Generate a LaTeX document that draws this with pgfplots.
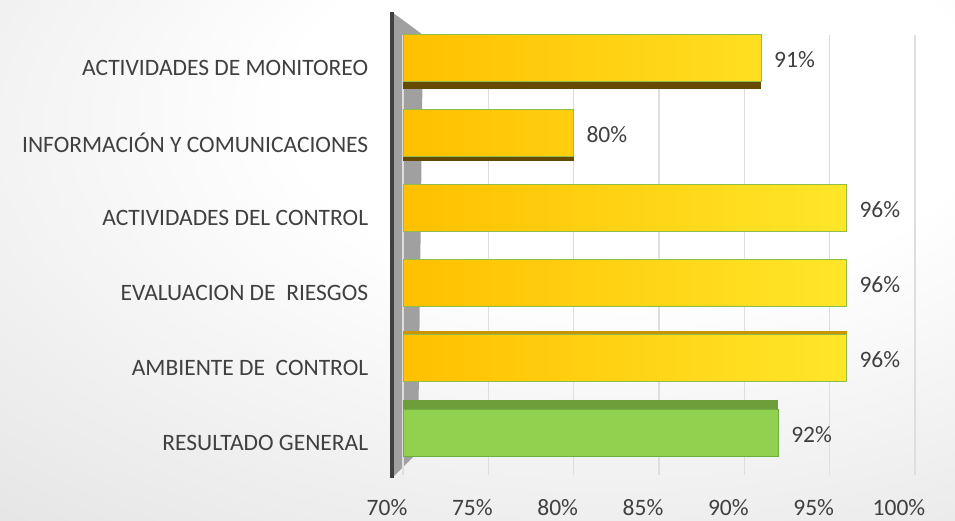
\documentclass[border=0pt]{standalone}
\usepackage{fontspec}
\setmainfont{Carlito}
\usepackage{pgfplots}
\pgfplotsset{compat=1.18}
\usetikzlibrary{backgrounds}
\definecolor{txt}{HTML}{404040}
\definecolor{barL}{HTML}{FFC000}
\definecolor{barR}{HTML}{FFE629}
\definecolor{barEdge}{HTML}{8FBF4A}
\definecolor{grn}{HTML}{92D050}
\definecolor{grnEdge}{HTML}{6FAE3E}
\definecolor{shadowbrown}{HTML}{664A00}
\definecolor{topgold}{HTML}{C99400}
\definecolor{topgreen}{HTML}{6E9E3A}
\definecolor{wallgray}{HTML}{A0A0A0}
\definecolor{axisdark}{HTML}{404040}
\pgfdeclareradialshading{bgshade}{\pgfpoint{10bp}{18bp}}{%
  color(0bp)=(white); color(18bp)=(white); color(55bp)=(black!13);
  color(75bp)=(black!20); color(100bp)=(black!24)}

\begin{document}
\begin{tikzpicture}
\begin{axis}[
    name=ax,
    at={(403pt,45pt)}, anchor=south west,
    scale only axis, width=512pt, height=440pt,
    xmin=70, xmax=100, ymin=-0.56, ymax=5.307,
    xbar, bar width=47pt,
    axis lines*=left, axis line style={draw=none},
    tick style={draw=none},
    xtick={70,75,...,100},
    xticklabel={\pgfmathprintnumber{\tick}\%},
    /pgf/number format/assume math mode=true,
    xmajorgrids, grid style={line width=1.2pt, black!13},
    ytick={0,1,2,3,4,5},
    yticklabels={RESULTADO GENERAL, AMBIENTE DE~~CONTROL, EVALUACION DE~~RIESGOS,
                 ACTIVIDADES DEL CONTROL, INFORMACIÓN Y COMUNICACIONES, ACTIVIDADES DE MONITOREO},
    yticklabel style={font=\fontsize{23.5}{26}\selectfont, text=txt, xshift=-27pt, yshift=-10pt},
    xticklabel style={font=\fontsize{23.5}{26}\selectfont, text=txt, yshift=-21pt, xshift=-16pt},
    every node near coord/.append style={font=\fontsize{23.5}{26}\selectfont, text=txt, xshift=9pt, yshift=-2pt},
]
% 3D side faces
\addplot[bar shift=-7pt, fill=shadowbrown, draw=none] coordinates {(91,5)};
\addplot[bar shift=-4pt, fill=shadowbrown, draw=none] coordinates {(80,4)};
\addplot[bar shift=4pt, fill=topgold, draw=none] coordinates {(96,1)};
\addplot[bar shift=10pt, fill=topgreen, draw=none] coordinates {(92,0)};
% front faces
\addplot[bar shift=0pt, left color=barL, right color=barR, draw=barEdge, line width=1pt,
    point meta=x, nodes near coords={\pgfmathprintnumber{\pgfplotspointmeta}\%}]
    coordinates {(96,1) (96,2) (96,3) (80,4) (91,5)};
\addplot[bar shift=0pt, fill=grn, draw=grnEdge, line width=1pt,
    point meta=x, nodes near coords={\pgfmathprintnumber{\pgfplotspointmeta}\%}]
    coordinates {(92,0)};
\end{axis}
\begin{scope}[on background layer]
  \shade[shading=bgshade] (0pt,0pt) rectangle (955pt,520pt);
  \fill[wallgray] (392pt,508pt) -- (423pt,485pt) -- (418pt,68pt) -- (392pt,42pt) -- cycle;
  \draw[line width=3.5pt, axisdark] (392pt,508pt) -- (392pt,42pt);
\end{scope}
\end{tikzpicture}
\end{document}
